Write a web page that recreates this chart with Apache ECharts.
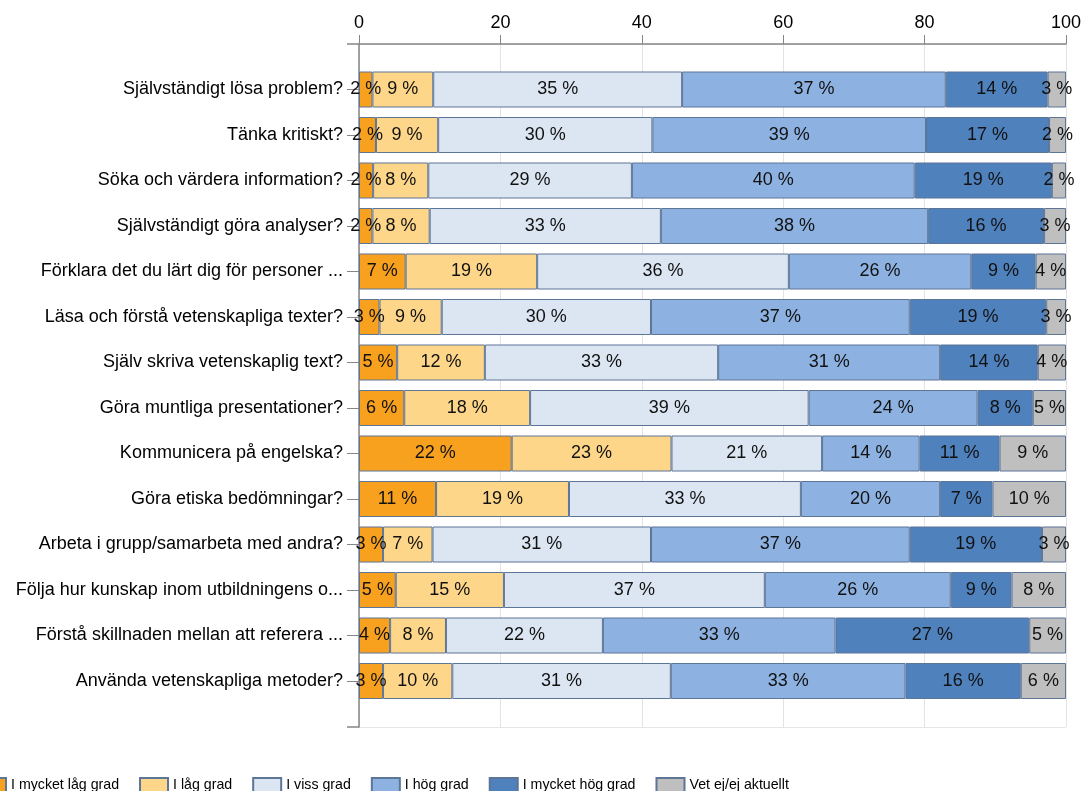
<!DOCTYPE html>
<html>
<head>
<meta charset="utf-8">
<script src="https://cdn.jsdelivr.net/npm/echarts@6/dist/echarts.min.js"></script>
<style>
html,body{margin:0;padding:0;background:#fff;}
#chart{width:1085px;height:791px;}
</style>
</head>
<body>
<div id="chart"></div>
<script>
const categories = [
  'Självständigt lösa problem?',
  'Tänka kritiskt?',
  'Söka och värdera information?',
  'Självständigt göra analyser?',
  'Förklara det du lärt dig för personer ...',
  'Läsa och förstå vetenskapliga texter?',
  'Själv skriva vetenskaplig text?',
  'Göra muntliga presentationer?',
  'Kommunicera på engelska?',
  'Göra etiska bedömningar?',
  'Arbeta i grupp/samarbeta med andra?',
  'Följa hur kunskap inom utbildningens o...',
  'Förstå skillnaden mellan att referera ...',
  'Använda vetenskapliga metoder?'
];
const seriesNames = ['I mycket låg grad','I låg grad','I viss grad','I hög grad','I mycket hög grad','Vet ej/ej aktuellt'];
const mycketLag = [1.9, 2.4, 2.0, 1.9, 6.6, 2.9, 5.4, 6.4, 21.6, 10.9, 3.4, 5.2, 4.4, 3.4];
const lag       = [8.6, 8.8, 7.8, 8.1, 18.6, 8.8, 12.4, 17.8, 22.6, 18.8, 7.0, 15.3, 7.9, 9.8];
const viss      = [35.2, 30.3, 28.8, 32.7, 35.6, 29.6, 33.0, 39.4, 21.3, 32.8, 30.9, 36.9, 22.2, 30.9];
const hog       = [37.3, 38.7, 40.0, 37.8, 25.8, 36.6, 31.4, 23.9, 13.8, 19.7, 36.6, 26.3, 32.9, 33.2];
const mycketHog = [14.4, 17.4, 19.4, 16.4, 9.1, 19.3, 13.8, 7.8, 11.3, 7.4, 18.7, 8.6, 27.4, 16.3];
const vetEj     = [2.6, 2.4, 2.0, 3.1, 4.3, 2.8, 4.0, 4.7, 9.4, 10.4, 3.4, 7.7, 5.2, 6.4];
const xTicks = [0, 20, 40, 60, 80, 100];

const values = [mycketLag, lag, viss, hog, mycketHog, vetEj];
const colors = ['#F8A11F','#FDD68A','#DCE6F2','#8DB2E1','#4F81BD','#BFBFBF'];
const FONT = "'Liberation Sans', Arial, sans-serif";

const chart = echarts.init(document.getElementById('chart'), null, {renderer:'canvas'});
const option = {
  animation: false,
  backgroundColor: '#fff',
  textStyle: {fontFamily: FONT},
  grid: [
    {left: 359, right: 19, top: 44, bottom: 64},
    {left: 359, right: 19, top: 66.75, bottom: 87.25}
  ],
  xAxis: [
    {
      gridIndex: 0, type: 'value', position: 'top', min: xTicks[0], max: xTicks[xTicks.length-1], interval: 20,
      axisLine: {show: true, onZero: false, lineStyle: {color: '#868686', width: 1.5}},
      axisTick: {show: true, length: 9, lineStyle: {color: '#868686'}},
      axisLabel: {fontSize: 18, color: '#000', margin: 12, fontFamily: FONT},
      splitLine: {show: true, lineStyle: {color: '#E3E3E3', width: 1}}
    },
    {
      gridIndex: 1, type: 'value', min: 0, max: 100, show: false
    }
  ],
  yAxis: [
    {
      gridIndex: 0, type: 'value', min: 0, max: 1, interval: 1,
      axisLine: {show: true, onZero: false, lineStyle: {color: '#868686', width: 1.5}},
      axisTick: {show: true, length: 12, lineStyle: {color: '#868686', width: 1.5}},
      axisLabel: {show: false},
      splitLine: {show: true, lineStyle: {color: '#E6E6E6', width: 1}}
    },
    {
      gridIndex: 1, type: 'category', inverse: true, data: categories,
      axisLine: {show: false},
      axisTick: {show: true, length: 12, alignWithLabel: true, lineStyle: {color: '#868686'}},
      axisLabel: {fontSize: 18, color: '#000', margin: 16, fontFamily: FONT},
      splitLine: {show: false}
    }
  ],
  legend: {
    left: -23, top: 777, padding: 0,
    itemWidth: 28, itemHeight: 14, itemGap: 20,
    icon: 'rect',
    textStyle: {fontSize: 14.2, color: '#000', fontFamily: FONT},
    data: seriesNames
  },
  series: values.map((arr, i) => ({
    name: seriesNames[i],
    type: 'bar',
    stack: 'total',
    xAxisIndex: 1, yAxisIndex: 1,
    barWidth: 36,
    data: arr,
    itemStyle: {color: colors[i], borderColor: '#5D7597', borderWidth: 1},
    label: {
      show: true, position: 'inside', fontSize: 18, color: '#111', fontFamily: FONT,
      formatter: p => Math.round(p.value) + ' %'
    }
  }))
};
chart.setOption(option);
</script>
</body>
</html>
